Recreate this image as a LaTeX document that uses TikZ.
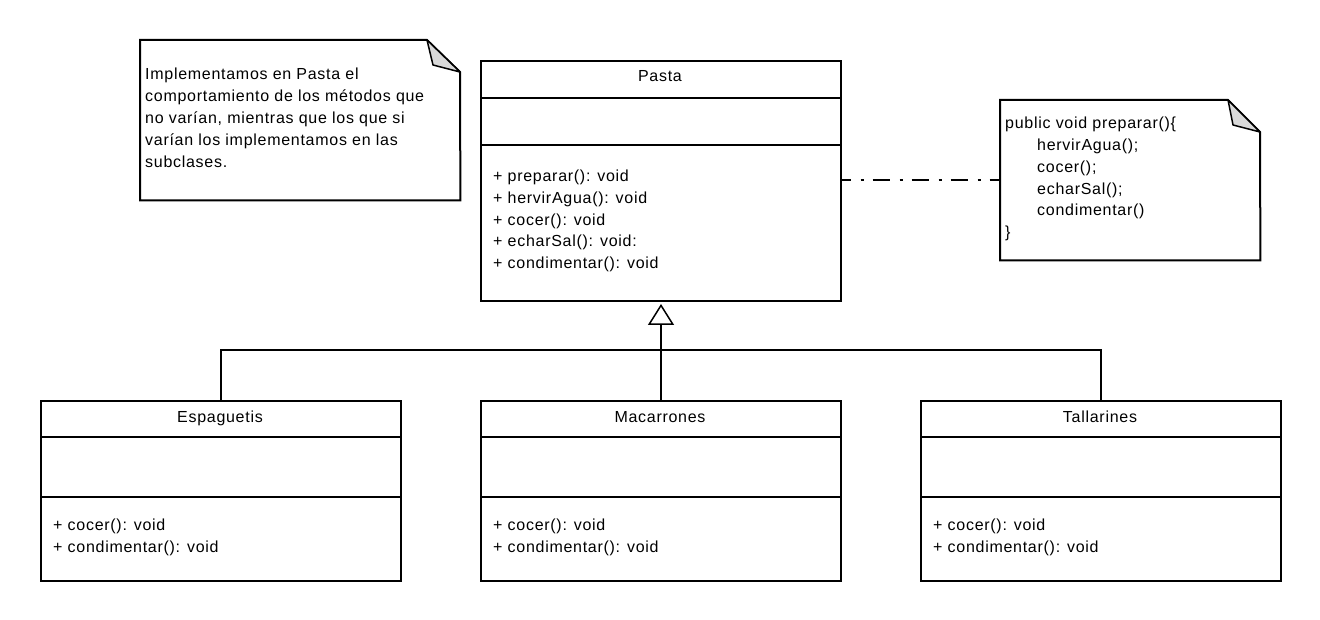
\documentclass[tikz,border=0pt]{standalone}
\usepackage{fontspec}
\setmainfont{Liberation Sans}[LetterSpace=4.5]
\usetikzlibrary{arrows.meta}
\begin{document}
\begin{tikzpicture}[x=1pt,y=-1pt,
  classbox/.style={draw, line width=2pt, inner sep=0pt, anchor=north west},
  notebox/.style={inner sep=0pt, anchor=north west},
  notedraw/.style={draw, line width=2pt, line join=miter},
  foldfill/.style={draw, fill=gray!30, line width=1.5pt, line join=round},
  sep/.style={line width=2pt},
  conn/.style={line width=2pt},
  txt/.style={anchor=base west, inner sep=0pt, font=\fontsize{16}{22}\selectfont},
  ctxt/.style={anchor=base, inner sep=0pt, font=\fontsize{16}{22}\selectfont}]
\useasboundingbox (0,0) rectangle (1320,620);

% ---------- Note 1 ----------
\node[notebox, minimum width=320pt, minimum height=160pt] (note1) at (140,40) {};
\draw[notedraw] (note1.north west) -- (427,40) -- (460,72) -- (note1.south east) -- (note1.south west) -- cycle;
\draw[foldfill] (427,40) -- (433,65) -- (460,72) -- cycle;
\node[txt] (n1a) at (145,79.5) {Implementamos en Pasta el};
\node[txt] (n1b) at (145,101.5) {comportamiento de los métodos que};
\node[txt] (n1c) at (145,123.5) {no varían, mientras que los que si};
\node[txt] (n1d) at (145,145.5) {varían los implementamos en las};
\node[txt] (n1e) at (145,167.5) {subclases.};

% ---------- Pasta ----------
\node[classbox, minimum width=360pt, minimum height=240pt] (pasta) at (480,60) {};
\draw[sep] (480,98) -- (840,98);
\draw[sep] (480,145) -- (840,145);
\node[ctxt] (pname) at (660,82) {Pasta};
\node[txt] (pm1) at (493,181.7) {+ preparar(): void};
\node[txt] (pm2) at (493,203.45) {+ hervirAgua(): void};
\node[txt] (pm3) at (493,225.2) {+ cocer(): void};
\node[txt] (pm4) at (493,246.95) {+ echarSal(): void:};
\node[txt] (pm5) at (493,268.7) {+ condimentar(): void};

% ---------- Note 2 ----------
\node[notebox, minimum width=260pt, minimum height=160pt] (note2) at (1000,100) {};
\draw[notedraw] (note2.north west) -- (1228,100) -- (1260,132) -- (note2.south east) -- (note2.south west) -- cycle;
\draw[foldfill] (1228,100) -- (1233,125) -- (1260,132) -- cycle;
\node[txt] (n2a) at (1005,129) {public void preparar()\{};
\node[txt] (n2b) at (1037,150.75) {hervirAgua();};
\node[txt] (n2c) at (1037,172.5) {cocer();};
\node[txt] (n2d) at (1037,194.25) {echarSal();};
\node[txt] (n2e) at (1037,216) {condimentar()};
\node[txt] (n2f) at (1005,237.75) {\}};

% note link
\coordinate (dl) at (pasta.east |- 0,180);
\coordinate (dr) at (note2.west |- 0,180);
\draw[conn, dash pattern=on 17pt off 10pt on 3pt off 9pt, dash phase=8.5pt] (dl) -- (dr);

% ---------- Subclasses ----------
\foreach \nm/\x/\lbl in {esp/40/Espaguetis, mac/480/Macarrones, tal/920/Tallarines}{
  \node[classbox, minimum width=360pt, minimum height=180pt] (\nm) at (\x,400) {};
  \draw[sep] (\x,437) -- ++(360,0);
  \draw[sep] (\x,497) -- ++(360,0);
  \node[ctxt] (\nm-name) at (\x+180,422) {\lbl};
  \node[txt] (\nm-m1) at (\x+13,530.7) {+ cocer(): void};
  \node[txt] (\nm-m2) at (\x+13,552.4) {+ condimentar(): void};
}

% ---------- Inheritance ----------
\coordinate (bar) at (660,350);
\draw[conn] (esp.north) |- (bar) -| (tal.north);
\draw[conn, -{Triangle[open, length=21pt, width=26pt, line width=1.5pt]}] (mac.north) -- ([yshift=-2pt]pasta.south);
\end{tikzpicture}
\end{document}
